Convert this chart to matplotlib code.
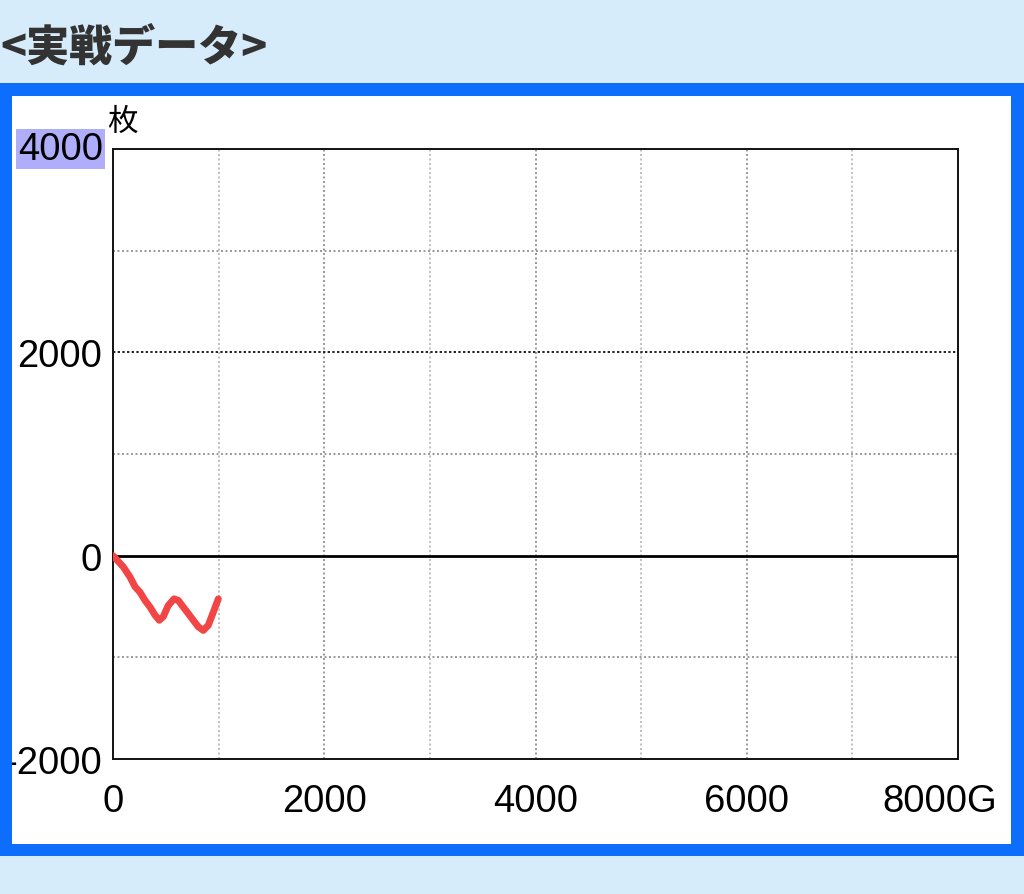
import matplotlib
matplotlib.use("Agg")
import matplotlib.pyplot as plt
from matplotlib.patches import Rectangle

games = [0, 97, 161, 208, 256, 303, 350, 398, 438, 476, 523, 578, 618, 665, 713, 760, 808, 855, 902, 950, 997]
medals = [0, -110, -210, -305, -360, -440, -505, -585, -635, -600, -490, -425, -440, -505, -570, -635, -700, -735, -685, -555, -425]

x_ticks = [0, 2000, 4000, 6000, 8000]
x_labels = ["0", "2000", "4000", "6000", ""]
y_ticks = [-2000, 0, 2000, 4000]
y_labels = ["-2000", "0", "2000", ""]
title = "<実戦データ>"
unit_y = "枚"
last_x_label = "8000G"
top_y_label = "4000"

plt.rcParams['font.family'] = ['Liberation Sans', 'Noto Sans CJK JP', 'DejaVu Sans']

fig = plt.figure(figsize=(10.24, 8.95), dpi=100)
fig.patch.set_facecolor('#d7ecfa')

W, H = 1024, 895
def fr(x, y, w, h):
    return (x / W, 1 - (y + h) / H, w / W, h / H)

# blue frame
bx, by, bw, bh = fr(0, 84, 1024, 773)
fig.patches.append(Rectangle((bx, by), bw, bh, transform=fig.transFigure, facecolor='#0d6efd', edgecolor='none', zorder=-2))
wx, wy, ww, wh = fr(12, 97, 999, 748)
fig.patches.append(Rectangle((wx, wy), ww, wh, transform=fig.transFigure, facecolor='white', edgecolor='none', zorder=-1))
# left blue strip on top (clips the -2000 label)
lx, ly, lw, lh = fr(0, 84, 12, 773)
fig.patches.append(Rectangle((lx, ly), lw, lh, transform=fig.transFigure, facecolor='#0d6efd', edgecolor='none', zorder=10))

fig.text(0 / W, 1 - 48 / H, title, fontsize=31, fontweight='heavy', color='#333333',
         family=['Noto Sans CJK JP', 'DejaVu Sans'], ha='left', va='center')

ax = fig.add_axes(fr(113, 150, 845, 610))
ax.set_facecolor('white')
ax.set_xlim(0, 8000)
ax.set_ylim(-2000, 4000)

for gx in range(1000, 8000, 1000):
    c = '#8a8a8a' if gx % 2000 == 0 else '#b5b5b5'
    ax.axvline(gx, color=c, lw=1.2, ls=(0, (1.2, 1.5)), zorder=1)
for gy in [-1000, 1000, 3000]:
    ax.axhline(gy, color='#8a8a8a', lw=1.2, ls=(0, (1.2, 1.5)), zorder=1)
ax.axhline(2000, color='#222222', lw=1.4, ls=(0, (1.2, 1.2)), zorder=1)
ax.axhline(0, color='black', lw=2.0, zorder=2)

ax.plot(games, medals, color='#f24545', lw=5.0, solid_capstyle='round', solid_joinstyle='round', zorder=3)

for s in ax.spines.values():
    s.set_color('#111111')
    s.set_linewidth(1.4)

ax.set_xticks(x_ticks)
ax.set_xticklabels(x_labels)
ax.set_yticks(y_ticks)
ax.set_yticklabels(y_labels)
ax.tick_params(length=0, labelsize=27.5, colors='black')
ax.tick_params(axis='x', pad=17)
ax.tick_params(axis='y', pad=8)

ax.annotate(last_x_label, xy=(1, 0), xycoords='axes fraction', xytext=(39, -42),
            textcoords='offset pixels', ha='right', va='center', fontsize=27.5)
ax.annotate(top_y_label, xy=(0, 1), xycoords='axes fraction', xytext=(-10, 0),
            textcoords='offset pixels', ha='right', va='center', fontsize=27.5,
            bbox=dict(boxstyle='square,pad=0.05', facecolor='#aeaefb', edgecolor='none'))
ax.annotate(unit_y, xy=(0, 1), xycoords='axes fraction', xytext=(-6, 28),
            textcoords='offset pixels', ha='left', va='center', fontsize=22,
            family=['Noto Sans CJK JP', 'DejaVu Sans'])

fig.savefig('out.png', dpi=100)
